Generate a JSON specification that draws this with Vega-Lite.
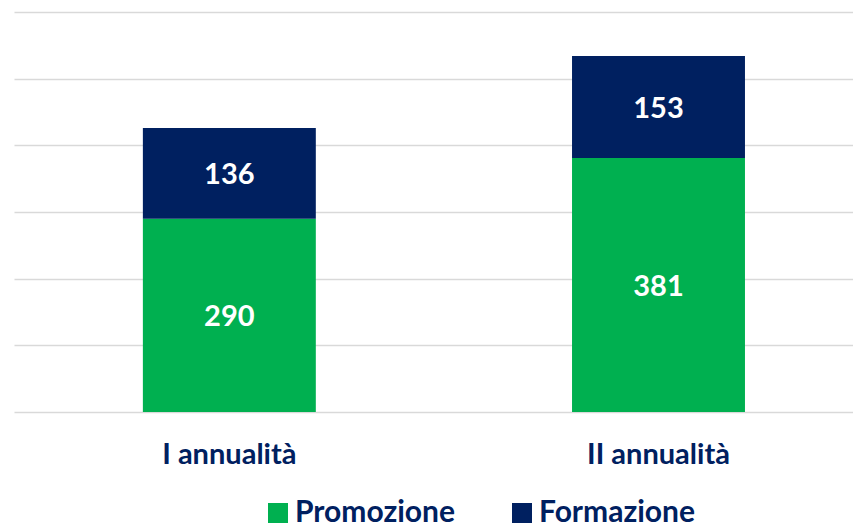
{
  "$schema": "https://vega.github.io/schema/vega-lite/v6.json",
  "width": 839,
  "height": 400,
  "autosize": {"type": "none"},
  "padding": {"left": 14, "top": 12, "right": 0, "bottom": 115},
  "background": "white",
  "config": {
    "view": {"stroke": null},
    "font": "Lato"
  },
  "data": {
    "values": [
      {"annualita": "I annualità", "serie": "Promozione", "valore": 290},
      {"annualita": "I annualità", "serie": "Formazione", "valore": 136},
      {"annualita": "II annualità", "serie": "Promozione", "valore": 381},
      {"annualita": "II annualità", "serie": "Formazione", "valore": 153}
    ]
  },
  "encoding": {
    "x": {
      "field": "annualita",
      "type": "nominal",
      "sort": ["I annualità", "II annualità"],
      "scale": {"paddingInner": 0.597, "paddingOuter": 0.276, "align": 0.544},
      "axis": {
        "title": null,
        "labelAngle": 0,
        "domain": false,
        "ticks": false,
        "labelPadding": 28,
        "labelFont": "Lato",
        "labelFontSize": 29,
        "labelFontWeight": "bold",
        "labelColor": "#002060"
      }
    }
  },
  "layer": [
    {
      "mark": {"type": "bar"},
      "encoding": {
        "y": {
          "field": "valore",
          "type": "quantitative",
          "stack": "zero",
          "scale": {"domain": [0, 600], "nice": false},
          "axis": {
            "title": null,
            "labels": false,
            "ticks": false,
            "domain": false,
            "values": [0, 100, 200, 300, 400, 500, 600],
            "grid": true,
            "gridColor": "#d9d9d9",
            "gridWidth": 1.6
          }
        },
        "color": {
          "field": "serie",
          "type": "nominal",
          "scale": {"domain": ["Promozione", "Formazione"], "range": ["#00B050", "#002060"]},
          "legend": {
            "title": null,
            "orient": "none",
            "direction": "horizontal",
            "legendX": 249,
            "legendY": 486,
            "symbolType": "square",
            "symbolSize": 400,
            "symbolStrokeWidth": 0,
            "labelFont": "Lato",
            "labelFontSize": 30,
            "labelFontWeight": "bold",
            "labelColor": "#002060",
            "labelOffset": 2,
            "columnPadding": 52,
            "labelLimit": 400
          }
        },
        "order": {"field": "serie", "sort": "descending"}
      }
    },
    {
      "mark": {"type": "text", "color": "white", "font": "Lato", "fontSize": 29, "fontWeight": "bold", "baseline": "middle", "dy": 2},
      "encoding": {
        "y": {"field": "valore", "type": "quantitative", "stack": "zero", "bandPosition": 0.5},
        "detail": {"field": "serie"},
        "order": {"field": "serie", "sort": "descending"},
        "text": {"field": "valore", "type": "quantitative"}
      }
    }
  ]
}
